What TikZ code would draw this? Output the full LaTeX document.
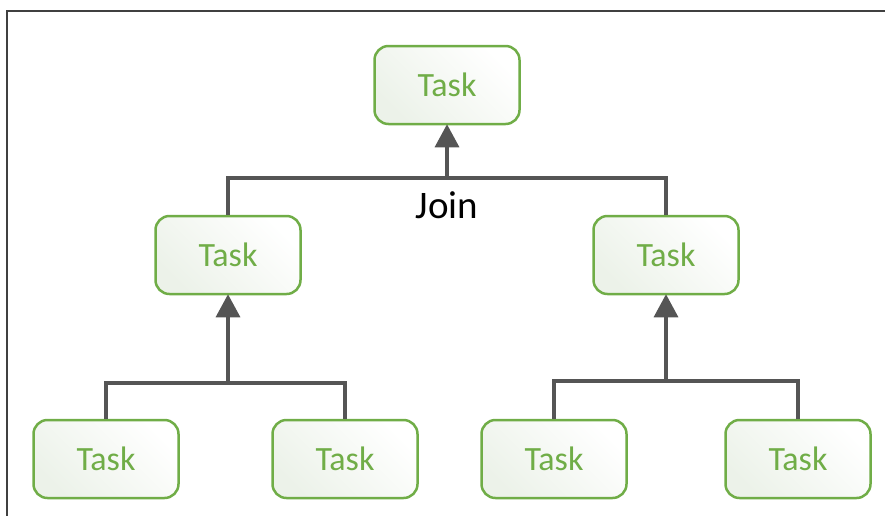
\documentclass[tikz,border=0pt]{standalone}
\usepackage{fontspec}
\setmainfont{Carlito}
\usetikzlibrary{arrows.meta}
\definecolor{taskgreen}{RGB}{112,173,71}
\definecolor{taskfill}{RGB}{236,242,233}
\definecolor{conngray}{RGB}{85,85,85}
\definecolor{framegray}{RGB}{64,64,64}
\tikzset{
  taskbox/.style={draw=taskgreen, line width=2.5pt, rounded corners=14pt,
    left color=taskfill, right color=white, shading angle=135,
    minimum width=145pt, minimum height=78pt, inner sep=0pt,
    text=taskgreen, font=\fontsize{34}{40}\selectfont},
  conn/.style={draw=conngray, line width=3.2pt},
  upconn/.style={conn, -{Triangle[width=24pt,length=23pt]}, shorten >=-1pt},
  framestyle/.style={draw=framegray, line width=2pt},
  joinlabel/.style={font=\fontsize{39}{46}\selectfont, anchor=base, inner sep=0pt}
}
\begin{document}
\begin{tikzpicture}[x=1pt,y=-1pt]
\useasboundingbox (0,0) rectangle (885,515);
\draw[framestyle] (7,516) -- (7,11) -- (886,11);
\node[taskbox] (top) at (447,85) {Task};
\node[taskbox] (ml) at (228,255) {Task};
\node[taskbox] (mr) at (666,255) {Task};
\node[taskbox] (b1) at (106,459) {Task};
\node[taskbox] (b2) at (345,459) {Task};
\node[taskbox] (b3) at (554,459) {Task};
\node[taskbox] (b4) at (798,459) {Task};
\coordinate (j1) at (447,178);
\coordinate (j2) at (228,383);
\coordinate (j3) at (666,381);
\draw[conn] (ml.north) -- (ml.north |- j1) -- (mr.north |- j1) -- (mr.north);
\draw[upconn] (j1) -- (top.south);
\draw[conn] (b1.north) -- (b1.north |- j2) -- (b2.north |- j2) -- (b2.north);
\draw[upconn] (j2) -- (ml.south);
\draw[conn] (b3.north) -- (b3.north |- j3) -- (b4.north |- j3) -- (b4.north);
\draw[upconn] (j3) -- (mr.south);
\node[joinlabel] (join) at (447,218) {Join};
\end{tikzpicture}
\end{document}
